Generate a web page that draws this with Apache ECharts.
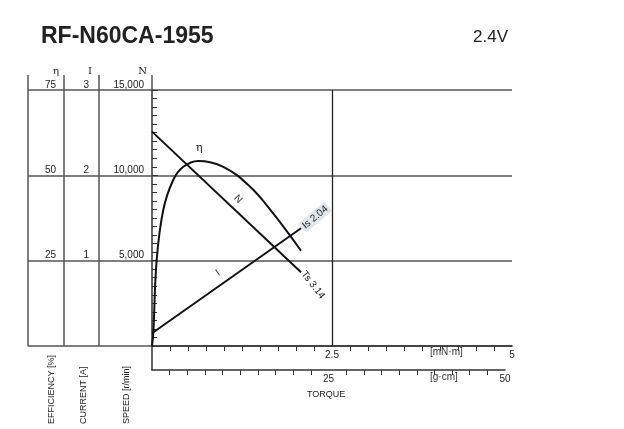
<!DOCTYPE html>
<html><head><meta charset="utf-8">
<script src="https://cdn.jsdelivr.net/npm/echarts@6/dist/echarts.min.js"></script>
<style>html,body{margin:0;background:#fff}#c{width:624px;height:429px}</style>
</head><body><div id="c"></div>
<script>
const speedN = [[0, 12560], [2.07, 4320]];
const currentI = [[0, 0.15], [2.07, 1.38]];
const efficiency = [[0, 0], [0.018, 3.8], [0.065, 25.2], [0.157, 39.9], [0.296, 48.7], [0.435, 52.5], [0.64, 54.2], [0.99, 52.5], [1.36, 46.7], [1.68, 38.9], [2.07, 27.9]];
const title = 'RF-N60CA-1955';
const voltage = '2.4V';
const TsLabel = 'Ts 3.14';
const IsLabel = 'Is 2.04';

const F = 'Liberation Sans, Arial, sans-serif';
const gridCol = '#555';
const chart = echarts.init(document.getElementById('c'));
const lab = {fontFamily: F, fontSize: 10, color: '#222'};
function colAxis(grid, max, interval, fmt, off, name) {
  return {type: 'value', gridIndex: grid, min: 0, max: max, interval: interval, position: 'left', offset: off,
    axisLine: {show: false}, axisTick: {show: false}, splitLine: {show: false},
    axisLabel: Object.assign({}, lab, {showMinLabel: false, verticalAlign: 'bottom', margin: 3, formatter: fmt}),
    name: name, nameLocation: 'end', nameGap: 14,
    nameTextStyle: {fontFamily: 'DejaVu Serif, serif', fontSize: 10, color: '#222', align: 'right', padding: [0, 0, 0, 0]}};
}
chart.setOption({
  animation: false,
  title: [
    {text: title, left: 36, top: 20, textStyle: {fontFamily: F, fontSize: 23, fontWeight: 'bold', color: '#222'}},
    {text: voltage, left: 468, top: 24, textStyle: {fontFamily: F, fontSize: 17, fontWeight: 'normal', color: '#222'}}
  ],
  grid: [
    {left: 152, top: 90, width: 360, height: 256},
    {left: 28, top: 90, width: 484, height: 256},
    {left: 152, top: 90, width: 353, height: 280}
  ],
  xAxis: [
    {type: 'value', gridIndex: 0, min: 0, max: 5, interval: 2.5,
      axisLine: {lineStyle: {color: '#333', width: 1.5}},
      axisTick: {show: false},
      minorTick: {show: true, splitNumber: 10, length: 5, lineStyle: {color: '#333'}},
      axisLabel: Object.assign({}, lab, {showMinLabel: false, margin: 4, formatter: v => v === 2.5 ? '2.5' : v === 5 ? '5' : ''}),
      splitLine: {show: false}},
    {type: 'value', gridIndex: 1, min: 0, max: 1, show: false},
    {type: 'value', gridIndex: 2, min: 0, max: 50, interval: 25,
      axisLine: {lineStyle: {color: '#333', width: 1.5}},
      axisTick: {show: false},
      minorTick: {show: true, splitNumber: 10, length: 5, lineStyle: {color: '#333'}},
      axisLabel: Object.assign({}, lab, {showMinLabel: false, margin: 4}),
      splitLine: {show: false}}
  ],
  yAxis: [
    {type: 'value', gridIndex: 0, min: 0, max: 15000, interval: 5000,
      axisLine: {show: false}, axisLabel: {show: false}, splitLine: {show: false},
      axisTick: {show: true, inside: true, length: 6, lineStyle: {color: '#333'}},
      minorTick: {show: true, splitNumber: 10, length: 5, lineStyle: {color: '#333'}}},
    {type: 'value', gridIndex: 0, min: 0, max: 3, show: false},
    {type: 'value', gridIndex: 0, min: 0, max: 75, show: false},
    {type: 'value', gridIndex: 1, min: 0, max: 15000, interval: 5000,
      axisLine: {show: false}, axisTick: {show: false}, axisLabel: {show: false},
      splitLine: {show: true, lineStyle: {color: gridCol, width: 1.5}}},
    colAxis(1, 75, 25, v => v, -31, 'η'),
    colAxis(1, 3, 1, v => v, -64, 'I'),
    colAxis(1, 15000, 5000, v => v.toLocaleString('en-US'), -119, 'N'),
    {type: 'value', gridIndex: 2, min: 0, max: 1, axisLine: {show: true, lineStyle: {color: '#333', width: 1.5}},
      axisTick: {show: false}, axisLabel: {show: false}, splitLine: {show: false}}
  ],
  series: [
    {type: 'line', xAxisIndex: 0, yAxisIndex: 0, showSymbol: true, symbol: 'circle', symbolSize: 0.1,
      label: {show: false},
      data: speedN.map((d, i) => i === 1 ? {value: d, label: {show: true, formatter: TsLabel, rotate: -52, position: 'right', distance: 2, fontFamily: F, fontSize: 10, color: '#222'}} : d),
      lineStyle: {color: '#111', width: 2}, itemStyle: {color: '#111'},
      markLine: {silent: true, symbol: 'none', label: {show: false}, lineStyle: {color: '#222', width: 1.3, type: 'solid'}, data: [{xAxis: 2.5}]}},
    {type: 'line', xAxisIndex: 0, yAxisIndex: 1, showSymbol: true, symbol: 'circle', symbolSize: 0.1,
      label: {show: false},
      data: currentI.map((d, i) => i === 1 ? {value: d, label: {show: true, formatter: IsLabel, rotate: 40, position: 'right', distance: 1, fontFamily: F, fontSize: 10, color: '#222', backgroundColor: '#dfe6f0', padding: [1, 2]}} : d),
      lineStyle: {color: '#111', width: 2}, itemStyle: {color: '#111'}},
    {type: 'line', xAxisIndex: 0, yAxisIndex: 2, data: efficiency, smooth: 0.4,
      symbol: 'none', lineStyle: {color: '#111', width: 2}}
  ],
  graphic: [
    {type: 'text', left: 196, top: 143, style: {text: 'η', font: '11px DejaVu Serif', fill: '#222'}},
    {type: 'text', left: 232, top: 193, rotation: -Math.PI / 4, style: {text: 'N', font: '10px ' + F, fill: '#333'}},
    {type: 'text', left: 214, top: 268, rotation: Math.PI / 5, style: {text: 'I', font: '10px ' + F, fill: '#333'}},
    {type: 'text', left: 430, top: 347, style: {text: '[mN·m]', font: '10px ' + F, fill: '#333'}},
    {type: 'text', left: 430, top: 372, style: {text: '[g·cm]', font: '10px ' + F, fill: '#333'}},
    {type: 'text', left: 307, top: 390, style: {text: 'TORQUE', font: '9px ' + F, fill: '#222'}},
    {type: 'text', x: 52, y: 424, rotation: Math.PI / 2, style: {text: 'EFFICIENCY [%]', font: '9px ' + F, fill: '#222', align: 'left', verticalAlign: 'middle'}},
    {type: 'text', x: 84, y: 424, rotation: Math.PI / 2, style: {text: 'CURRENT [A]', font: '9px ' + F, fill: '#222', align: 'left', verticalAlign: 'middle'}},
    {type: 'text', x: 127, y: 424, rotation: Math.PI / 2, style: {text: 'SPEED [r/min]', font: '9px ' + F, fill: '#222', align: 'left', verticalAlign: 'middle'}},
    {type: 'line', shape: {x1: 28, y1: 75, x2: 28, y2: 346}, style: {stroke: gridCol, lineWidth: 1.5}},
    {type: 'line', shape: {x1: 64, y1: 75, x2: 64, y2: 346}, style: {stroke: gridCol, lineWidth: 1.5}},
    {type: 'line', shape: {x1: 99, y1: 75, x2: 99, y2: 346}, style: {stroke: gridCol, lineWidth: 1.5}},
    {type: 'line', shape: {x1: 152, y1: 75, x2: 152, y2: 90}, style: {stroke: gridCol, lineWidth: 1.5}}
  ]
});
</script></body></html>
